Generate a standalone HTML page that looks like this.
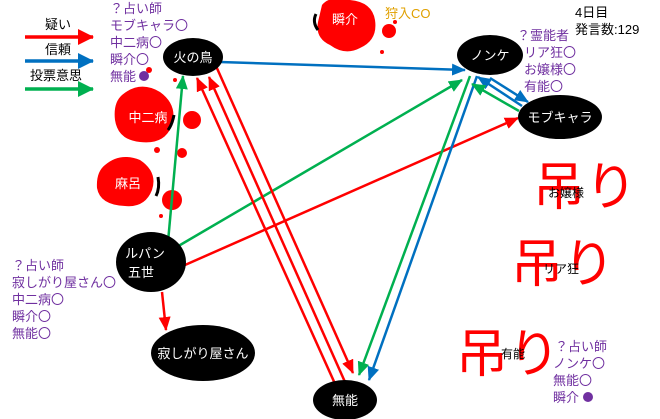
<!DOCTYPE html>
<html><head><meta charset="utf-8"><style>
html,body{margin:0;padding:0;background:#fff;width:660px;height:419px;overflow:hidden}
svg{display:block;font-family:"Liberation Sans","Noto Sans CJK JP",sans-serif}
</style></head><body>
<svg width="660" height="419" viewBox="0 0 660 419">
<defs>
<marker id="r" markerWidth="14" markerHeight="12" refX="13" refY="6" orient="auto" markerUnits="userSpaceOnUse"><path d="M0,0L14,6L0,12z" fill="#ff0000"/></marker>
<marker id="b" markerWidth="14" markerHeight="12" refX="13" refY="6" orient="auto" markerUnits="userSpaceOnUse"><path d="M0,0L14,6L0,12z" fill="#0070c0"/></marker>
<marker id="g" markerWidth="14" markerHeight="12" refX="13" refY="6" orient="auto" markerUnits="userSpaceOnUse"><path d="M0,0L14,6L0,12z" fill="#00b050"/></marker>
<marker id="rL" markerWidth="16" markerHeight="16" refX="15" refY="8" orient="auto" markerUnits="userSpaceOnUse"><path d="M0,0L16,8L0,16z" fill="#ff0000"/></marker>
<marker id="bL" markerWidth="16" markerHeight="16" refX="15" refY="8" orient="auto" markerUnits="userSpaceOnUse"><path d="M0,0L16,8L0,16z" fill="#0070c0"/></marker>
<marker id="gL" markerWidth="16" markerHeight="16" refX="15" refY="8" orient="auto" markerUnits="userSpaceOnUse"><path d="M0,0L16,8L0,16z" fill="#00b050"/></marker>
</defs>
<g fill="#ff0000">
<path d="M322,5 Q330,-5 350,0 Q372,2 375,20 Q378,40 360,48 Q345,56 330,45 Q315,38 318,22Z"/>
<circle cx="389" cy="31" r="7"/><circle cx="382" cy="52" r="2"/><circle cx="395" cy="22" r="2"/>
<path d="M122,95 Q140,80 160,92 Q178,105 172,125 Q165,145 140,142 Q118,140 115,120 Q113,103 122,95Z"/>
<circle cx="192" cy="120" r="9"/><circle cx="149" cy="70" r="3"/><circle cx="175" cy="80" r="2"/><circle cx="182" cy="153" r="5"/><circle cx="157" cy="150" r="3"/>
<path d="M105,165 Q120,152 140,160 Q158,172 152,190 Q145,208 125,206 Q100,205 97,188 Q96,172 105,165Z"/>
<circle cx="172" cy="200" r="10"/><circle cx="161" cy="216" r="2"/>
</g>
<path d="M316,14 Q312,22 318,30" stroke="#000" stroke-width="3" fill="none"/>
<path d="M174,115 Q172,125 168,130" stroke="#000" stroke-width="3" fill="none"/>
<path d="M158,177 Q160,188 156,196" stroke="#000" stroke-width="3" fill="none"/>
<text x="345" y="24" fill="#fff" font-size="13" text-anchor="middle">瞬介</text>
<text x="148" y="122" fill="#fff" font-size="13" text-anchor="middle">中二病</text>
<text x="128" y="188" fill="#fff" font-size="13" text-anchor="middle">麻呂</text>
<g font-size="13" fill="#000">
<text x="45" y="29">疑い</text><text x="45" y="54">信頼</text><text x="30" y="80">投票意思</text>
</g>
<line x1="25" y1="37" x2="93" y2="37" stroke="#ff0000" stroke-width="3.5" marker-end="url(#rL)"/>
<line x1="25" y1="61" x2="93" y2="61" stroke="#0070c0" stroke-width="3.5" marker-end="url(#bL)"/>
<line x1="25" y1="89" x2="93" y2="89" stroke="#00b050" stroke-width="3.5" marker-end="url(#gL)"/>
<g stroke-width="2.5" fill="none">
<line x1="220" y1="62" x2="465" y2="70" stroke="#0070c0" marker-end="url(#b)"/>
<line x1="168" y1="242" x2="183" y2="76" stroke="#00b050" marker-end="url(#g)"/>
<line x1="175" y1="248" x2="462" y2="80" stroke="#00b050" marker-end="url(#g)"/>
<line x1="185" y1="265" x2="518" y2="118" stroke="#ff0000" marker-end="url(#r)"/>
<line x1="162" y1="292" x2="166" y2="330" stroke="#ff0000" marker-end="url(#r)"/>
<line x1="216" y1="66" x2="353" y2="373" stroke="#ff0000" marker-end="url(#r)"/>
<line x1="336" y1="386" x2="197" y2="78" stroke="#ff0000" marker-end="url(#r)"/>
<line x1="345" y1="382" x2="209" y2="77" stroke="#ff0000" marker-end="url(#r)"/>
<line x1="470" y1="76" x2="359" y2="375" stroke="#00b050" marker-end="url(#g)"/>
<line x1="477" y1="76" x2="369" y2="380" stroke="#0070c0" marker-end="url(#b)"/>
<line x1="490" y1="78" x2="528" y2="102" stroke="#0070c0" marker-end="url(#b)"/>
<line x1="522" y1="106" x2="478" y2="77" stroke="#0070c0" marker-end="url(#b)"/>
<line x1="519" y1="111" x2="472" y2="84" stroke="#00b050" marker-end="url(#g)"/>
</g>
<g fill="#000">
<ellipse cx="193" cy="57" rx="30" ry="19"/>
<ellipse cx="490" cy="55" rx="33" ry="20"/>
<ellipse cx="560" cy="117" rx="42" ry="22"/>
<ellipse cx="151" cy="262" rx="35" ry="30"/>
<ellipse cx="203" cy="353" rx="52" ry="28"/>
<ellipse cx="345" cy="400" rx="32" ry="20"/>
</g>
<g fill="#fff" font-size="13" text-anchor="middle">
<text x="193" y="62">火の鳥</text>
<text x="490" y="60">ノンケ</text>
<text x="560" y="122">モブキャラ</text>
<text x="145" y="258">ルパン</text><text x="141" y="277">五世</text>
<text x="203" y="358">寂しがり屋さん</text>
<text x="345" y="405">無能</text>
</g>
<g fill="#7030a0" font-size="13">
<text x="110" y="13">？占い師</text><text x="110" y="30">モブキャラ〇</text><text x="110" y="47">中二病〇</text><text x="110" y="64">瞬介〇</text><text x="110" y="81">無能</text>
<circle cx="144" cy="76" r="5"/>
<text x="517" y="40">？霊能者</text><text x="524" y="57">リア狂〇</text><text x="524" y="74">お嬢様〇</text><text x="524" y="91">有能〇</text>
<text x="12" y="270">？占い師</text><text x="12" y="287">寂しがり屋さん〇</text><text x="12" y="304">中二病〇</text><text x="12" y="321">瞬介〇</text><text x="12" y="338">無能〇</text>
<text x="555" y="351">？占い師</text><text x="553" y="368">ノンケ〇</text><text x="553" y="385">無能〇</text><text x="553" y="402">瞬介</text>
<circle cx="588" cy="397" r="5"/>
</g>
<text x="385" y="18" fill="#e0a000" font-size="13">狩入CO</text>
<text x="575" y="17" fill="#000" font-size="13">4日目</text>
<text x="575" y="34" fill="#000" font-size="13">発言数:129</text>
<g fill="#ff0000" font-size="52">
<text x="533" y="205">吊り</text>
<text x="511" y="282">吊り</text>
<text x="456" y="372">吊り</text>
</g>
<g fill="#000" font-size="12">
<text x="548" y="197">お嬢様</text>
<text x="543" y="273">リア狂</text>
<text x="501" y="358">有能</text>
</g>
</svg>
</body></html>
